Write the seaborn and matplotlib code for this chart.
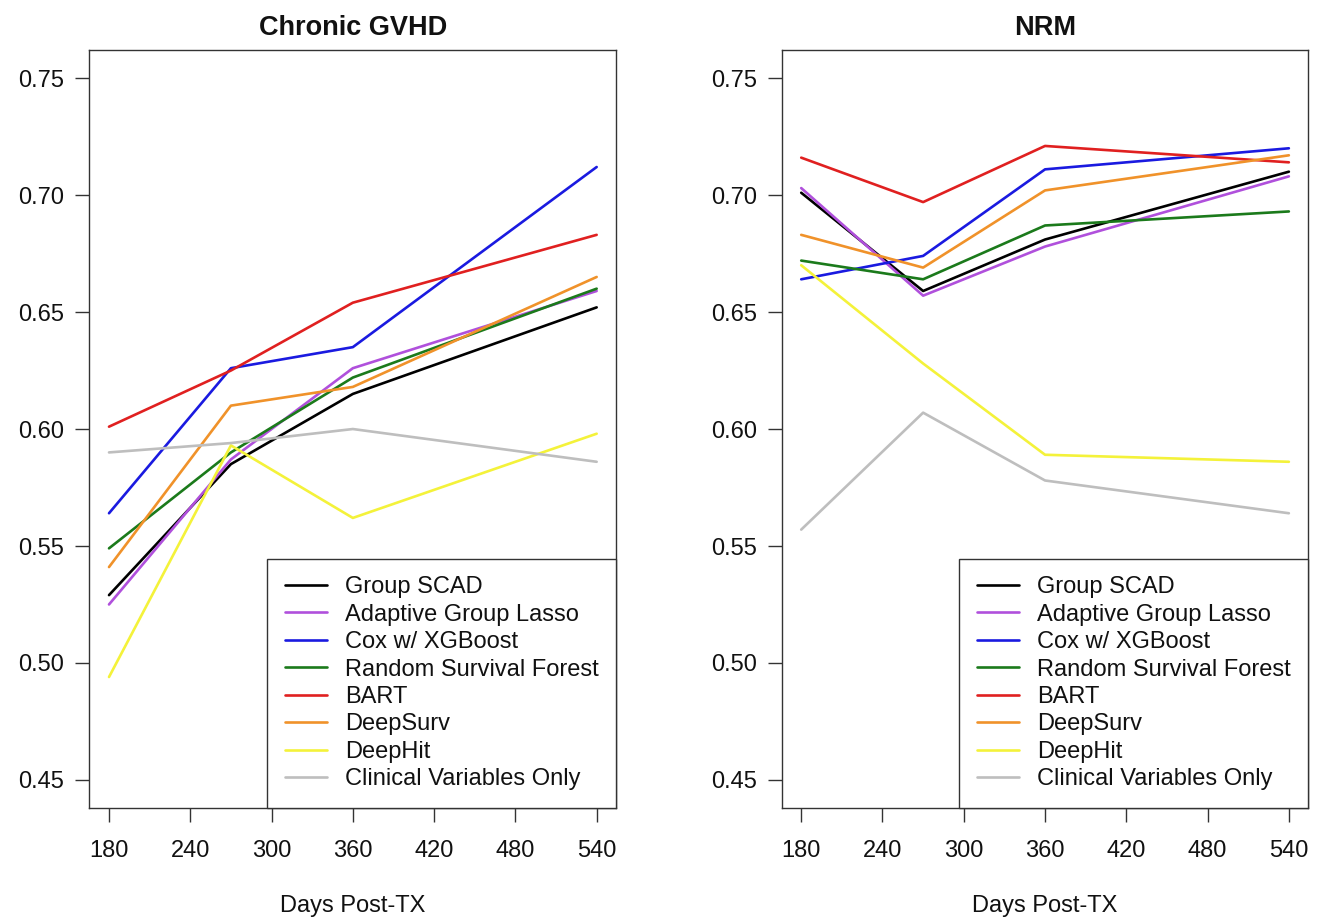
import matplotlib
matplotlib.use("Agg")
import matplotlib.pyplot as plt
import seaborn as sns
import pandas as pd

days = [180, 270, 360, 540]
methods = ["Group SCAD", "Adaptive Group Lasso", "Cox w/ XGBoost",
           "Random Survival Forest", "BART", "DeepSurv", "DeepHit",
           "Clinical Variables Only"]
colors = ["#000000", "#B050DC", "#1A1AE0", "#1B7A1B", "#E02020",
          "#F0922A", "#F4F23A", "#BEBEBE"]

gvhd_scad = [0.529, 0.585, 0.615, 0.652]
gvhd_agl = [0.525, 0.587, 0.626, 0.659]
gvhd_cox = [0.564, 0.626, 0.635, 0.712]
gvhd_rsf = [0.549, 0.590, 0.622, 0.660]
gvhd_bart = [0.601, 0.625, 0.654, 0.683]
gvhd_deepsurv = [0.541, 0.610, 0.618, 0.665]
gvhd_deephit = [0.494, 0.593, 0.562, 0.598]
gvhd_clinical = [0.590, 0.594, 0.600, 0.586]

nrm_scad = [0.701, 0.659, 0.681, 0.710]
nrm_agl = [0.703, 0.657, 0.678, 0.708]
nrm_cox = [0.664, 0.674, 0.711, 0.720]
nrm_rsf = [0.672, 0.664, 0.687, 0.693]
nrm_bart = [0.716, 0.697, 0.721, 0.714]
nrm_deepsurv = [0.683, 0.669, 0.702, 0.717]
nrm_deephit = [0.670, 0.628, 0.589, 0.586]
nrm_clinical = [0.557, 0.607, 0.578, 0.564]

x_ticks = [180, 240, 300, 360, 420, 480, 540]
y_ticks = [0.45, 0.50, 0.55, 0.60, 0.65, 0.70, 0.75]
y_tick_labels = ["0.45", "0.50", "0.55", "0.60", "0.65", "0.70", "0.75"]
titles = ["Chronic GVHD", "NRM"]
x_label = "Days Post-TX"

gvhd = [gvhd_scad, gvhd_agl, gvhd_cox, gvhd_rsf, gvhd_bart, gvhd_deepsurv,
        gvhd_deephit, gvhd_clinical]
nrm = [nrm_scad, nrm_agl, nrm_cox, nrm_rsf, nrm_bart, nrm_deepsurv,
       nrm_deephit, nrm_clinical]


def long_df(series):
    rows = []
    for m, vals in zip(methods, series):
        for d, v in zip(days, vals):
            rows.append({"Days": d, "Value": v, "Method": m})
    return pd.DataFrame(rows)


sns.set_style("white")
plt.rcParams["font.family"] = ["Liberation Sans", "DejaVu Sans"]
plt.rcParams["axes.edgecolor"] = "#333333"

fig = plt.figure(figsize=(13.2, 9.18), dpi=100)
ax_w = 0.399
ax_b = 0.1198
ax_h = 0.8257
lefts = [0.0678, 0.5922]

palette = dict(zip(methods, colors))
fs = 17

for left, title, data in zip(lefts, titles, [gvhd, nrm]):
    ax = fig.add_axes([left, ax_b, ax_w, ax_h])
    df = long_df(data)
    sns.lineplot(data=df, x="Days", y="Value", hue="Method",
                 hue_order=methods, palette=palette, linewidth=1.9,
                 ax=ax, legend=False, errorbar=None, sort=True)
    ax.set_xlim(165.6, 554.4)
    ax.set_ylim(0.438, 0.762)
    ax.set_xticks(x_ticks)
    ax.set_xticklabels([str(t) for t in x_ticks])
    ax.set_yticks(y_ticks)
    ax.set_yticklabels(y_tick_labels)
    ax.tick_params(axis="both", direction="out", length=10, width=1.0,
                   color="#333333", labelsize=fs, labelcolor="#111111",
                   bottom=True, left=True)
    ax.tick_params(axis="x", pad=13)
    ax.tick_params(axis="y", pad=8)
    for s in ax.spines.values():
        s.set_visible(True)
        s.set_linewidth(1.0)
        s.set_color("#333333")
    ax.set_xlabel(x_label, fontsize=fs, labelpad=24, color="#111111")
    ax.set_ylabel("")
    ax.set_title(title, fontsize=19.5, fontweight="bold", pad=11,
                 color="#111111")
    handles = [plt.Line2D([0], [0], color=c, linewidth=1.9) for c in colors]
    leg = ax.legend(handles, methods, loc="lower right", fontsize=fs,
                    frameon=True, fancybox=False, borderaxespad=0,
                    handlelength=1.78, handletextpad=0.75,
                    labelspacing=0.23, borderpad=0.75)
    leg.get_frame().set_edgecolor("#333333")
    leg.get_frame().set_linewidth(1.0)
    leg.get_frame().set_alpha(1.0)
    for t in leg.get_texts():
        t.set_color("#111111")

fig.savefig("out.png", dpi=100)
